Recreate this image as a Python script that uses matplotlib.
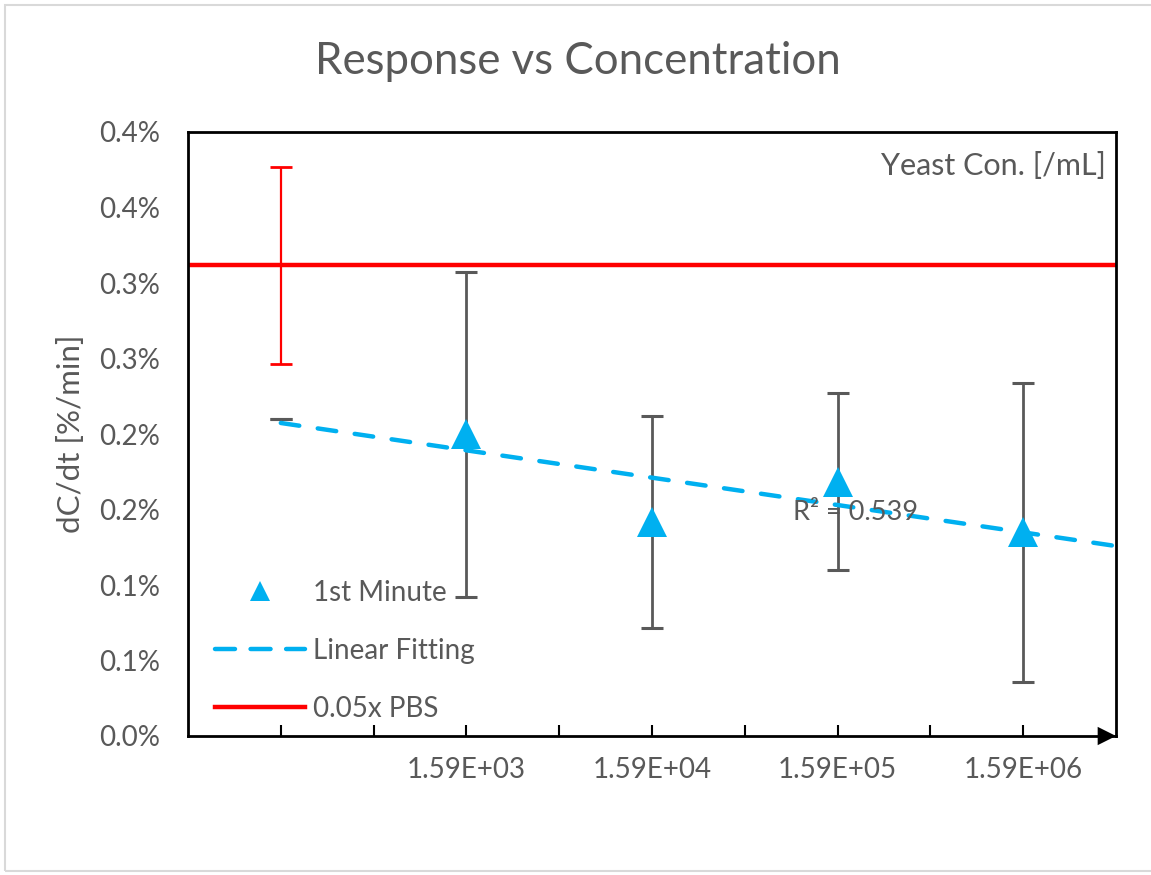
import matplotlib
matplotlib.use("Agg")
import matplotlib.pyplot as plt
from matplotlib.patches import Rectangle
from matplotlib.lines import Line2D

plt.rcParams['font.family'] = ['Lato', 'DejaVu Sans']

# ---- data (values in percent per minute) ----
x_positions = [3, 5, 7, 9]
x_labels = ["1.59E+03", "1.59E+04", "1.59E+05", "1.59E+06"]
first_minute = [0.1998, 0.1417, 0.1685, 0.1348]
first_minute_err = [0.1077, 0.0702, 0.0585, 0.0989]

pbs_x = 1
pbs_value = 0.3117
pbs_err = 0.0651

blank_x = 1
blank_cap = 0.2099

fit_x = [1, 10]
fit_y = [0.2073, 0.1258]
r_squared = 0.539

y_ticks = [0.0, 0.05, 0.10, 0.15, 0.20, 0.25, 0.30, 0.35, 0.40]
y_tick_labels = ["0.0%", "0.1%", "0.1%", "0.2%", "0.2%", "0.3%", "0.3%", "0.4%", "0.4%"]
minor_ticks = [1, 2, 3, 4, 5, 6, 7, 8, 9]

TXT = '#595959'
BLUE = '#00B0F0'
RED = '#FF0000'

W, H = 1151, 875
fig = plt.figure(figsize=(W / 100, H / 100), dpi=100)
ax = fig.add_axes([188 / W, 1 - 736 / H, (1116 - 188) / W, (736 - 132) / H])

# figure border
fig.patches.append(Rectangle((5 / W, 1 - 871 / H), 1.2, 866 / H, transform=fig.transFigure,
                             fill=False, edgecolor='#D9D9D9', linewidth=1.5))

# PBS horizontal line and error bar
ax.axhline(pbs_value, color=RED, linewidth=3.2, zorder=2)
ax.errorbar([pbs_x], [pbs_value], yerr=[pbs_err], fmt='none', ecolor=RED,
            elinewidth=1.6, capsize=8, capthick=2, zorder=3)

# small cap at first position
ax.errorbar([blank_x], [blank_cap], yerr=[0], fmt='none', ecolor=TXT,
            elinewidth=2, capsize=8, capthick=2.2, zorder=3)

# 1st Minute error bars
ax.errorbar(x_positions, first_minute, yerr=first_minute_err, fmt='none', ecolor=TXT,
            elinewidth=2, capsize=8, capthick=2.2, zorder=3)

# linear fitting
ax.plot(fit_x, fit_y, color=BLUE, linewidth=3.2, linestyle=(0, (4.2, 4.2)),
        dash_capstyle='round', zorder=4)

# markers
ax.plot(x_positions, first_minute, linestyle='none', marker='^', markersize=21,
        color=BLUE, markeredgewidth=0, zorder=5)

ax.set_xlim(0, 10)
ax.set_ylim(0, 0.4)

ax.set_yticks(y_ticks)
ax.set_yticklabels(y_tick_labels)
ax.set_xticks(minor_ticks)
ax.set_xticklabels([x_labels[x_positions.index(t)] if t in x_positions else '' for t in minor_ticks])

ax.tick_params(axis='y', length=0, pad=20, labelsize=20, labelcolor=TXT)
ax.tick_params(axis='x', direction='in', length=8, width=1.5, color='black', pad=15,
               labelsize=20, labelcolor=TXT)

for s in ax.spines.values():
    s.set_color('black')
    s.set_linewidth(2)

# arrow at x-axis end
ax.annotate('', xy=(1.0, 0.0), xytext=(0.975, 0.0), xycoords='axes fraction',
            arrowprops=dict(arrowstyle='-|>', mutation_scale=33, color='black', lw=0,
                            shrinkA=0, shrinkB=0), annotation_clip=False)

ax.set_ylabel('dC/dt [%/min]', fontsize=22.5, color=TXT)
ax.yaxis.set_label_coords(-0.111, 0.5)

fig.text(578 / W, 1 - 62 / H, 'Response vs Concentration', ha='center', va='center',
         fontsize=31.5, color=TXT)

ax.text(0.989, 0.944, 'Yeast Con. [/mL]', transform=ax.transAxes, ha='right', va='center',
        fontsize=22, color=TXT)

ax.text(6.52, 0.1483, f'R\u00b2 = {r_squared:.3f}', ha='left', va='center',
        fontsize=19.5, color=TXT, zorder=6)

handles = [
    Line2D([], [], linestyle='none', marker='^', markersize=15, color=BLUE, markeredgewidth=0),
    Line2D([], [], color=BLUE, linewidth=3.2, linestyle=(0, (4.5, 3.5)), dash_capstyle='round'),
    Line2D([], [], color=RED, linewidth=3.2),
]
leg = ax.legend(handles, ['1st Minute', 'Linear Fitting', '0.05x PBS'], loc='lower left',
                bbox_to_anchor=(0.029, 0.023), frameon=False, fontsize=20,
                borderaxespad=0, borderpad=0,
                handlelength=3.24, handletextpad=0.29, labelspacing=1.15)
for t in leg.get_texts():
    t.set_color(TXT)

fig.savefig('out.png', dpi=100)
